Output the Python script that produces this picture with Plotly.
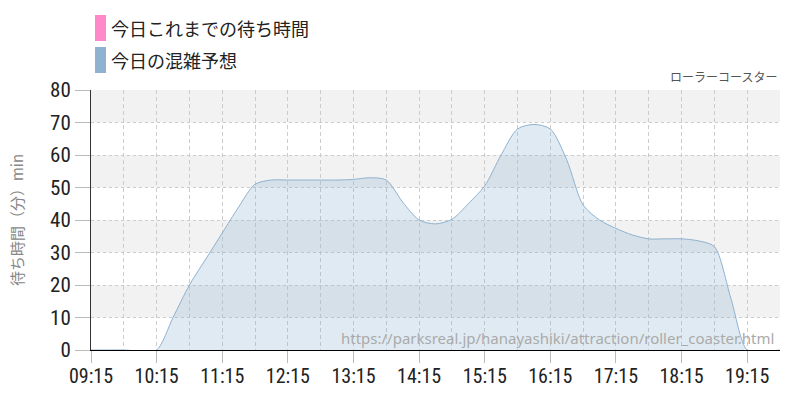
import plotly.graph_objects as go
from datetime import datetime

# ---- data ----
times = ["09:15", "09:30", "09:45", "10:00", "10:15", "10:30", "10:45", "11:00", "11:15",
         "11:30", "11:45", "12:00", "12:15", "12:30", "12:45", "13:00", "13:15", "13:30",
         "13:45", "14:00", "14:15", "14:30", "14:45", "15:00", "15:15", "15:30", "15:45",
         "16:00", "16:15", "16:30", "16:45", "17:00", "17:15", "17:30", "17:45", "18:00",
         "18:15", "18:30", "18:45", "19:00", "19:15", "19:30", "19:45"]
forecast = [0, 0, 0, -0.3, 0, 10, 20, 28, 36,
            44, 51, 52.3, 52.3, 52.3, 52.3, 52.3, 52.5, 53,
            52.3, 45.5, 40, 38.8, 40.2, 45, 50.5, 60, 68,
            69.4, 68, 58.5, 44.6, 40, 37.4, 35.4, 34.2, 34.2,
            34.2, 33.6, 31.8, 16, 0, -0.5, 0]
so_far_times = []
so_far = []
legend_names = ["今日これまでの待ち時間", "今日の混雑予想"]
legend_colors = ["#FF88C8", "#8FB2D0"]
title_text = "ローラーコースター"
y_title = "待ち時間（分）min"
watermark = "https://parksreal.jp/hanayashiki/attraction/roller_coaster.html"
y_ticks = [0, 10, 20, 30, 40, 50, 60, 70, 80]

day = "2024-01-01 "
def to_dt(t):
    return datetime.strptime(day + t, "%Y-%m-%d %H:%M")

x = [to_dt(t) for t in times]
x0 = to_dt("09:15")
x1 = to_dt("19:45")

num_font = "Roboto Condensed, Archivo Narrow, DejaVu Sans Condensed, sans-serif"
jp_font = "Noto Sans CJK JP, sans-serif"

L, R, T, B = 91, 20, 90, 50
PW, PH = 800 - L - R, 400 - T - B

def px_x(px):
    return (px - L) / PW

def px_y(py):
    return (400 - B - py) / PH

fig = go.Figure()
fig.add_trace(go.Scatter(
    x=[to_dt(t) for t in so_far_times], y=so_far, mode="lines",
    line=dict(color=legend_colors[0], width=1.5), name=legend_names[0], showlegend=False))
fig.add_trace(go.Scatter(
    x=x, y=forecast, mode="lines", fill="tozeroy",
    line=dict(color="#8FB2D0", width=1, shape="spline", smoothing=0.8),
    fillcolor="rgba(143,178,208,0.28)", name=legend_names[1], showlegend=False))

shapes = []
for i in range(0, len(y_ticks) - 1):
    lo, hi = y_ticks[i], y_ticks[i + 1]
    if i % 2 == 1:
        shapes.append(dict(type="rect", xref="paper", yref="y", x0=0, x1=1, y0=lo, y1=hi,
                           fillcolor="#F2F2F2", line=dict(width=0), layer="below"))
for i, c in enumerate(legend_colors):
    top = 15 + i * 32
    shapes.append(dict(type="rect", xref="paper", yref="paper",
                       x0=px_x(95), x1=px_x(106), y0=px_y(top + 26), y1=px_y(top),
                       fillcolor=c, line=dict(width=0)))

annotations = []
for i, n in enumerate(legend_names):
    cy = 28 + i * 32
    annotations.append(dict(text=n, xref="paper", yref="paper", x=px_x(109), y=px_y(cy),
                            xanchor="left", yanchor="middle", showarrow=False,
                            font=dict(family=jp_font, size=18, color="#222")))
annotations.append(dict(text=title_text, xref="paper", yref="paper", x=px_x(779), y=px_y(77),
                        xanchor="right", yanchor="middle", showarrow=False,
                        font=dict(family=jp_font, size=12, color="#555")))
annotations.append(dict(text=watermark, xref="paper", yref="paper", x=px_x(776), y=px_y(338),
                        xanchor="right", yanchor="middle", showarrow=False,
                        font=dict(family="Noto Sans, sans-serif", size=15, color="#AAAAAA")))

fig.update_layout(
    width=800, height=400,
    margin=dict(l=L, r=R, t=T, b=B),
    paper_bgcolor="white", plot_bgcolor="white",
    showlegend=False,
    shapes=shapes, annotations=annotations,
    xaxis=dict(
        type="date", range=[x0, x1], tick0=x0, dtick=3600000, tickformat="%H:%M",
        showgrid=True, gridcolor="#CCCCCC", griddash="4px,3px", gridwidth=1,
        minor=dict(dtick=1800000, tick0=x0, showgrid=True, gridcolor="#CCCCCC", griddash="4px,3px"),
        ticks="outside", ticklen=12, tickcolor="#BBBBBB", ticklabelstandoff=-4,
        showline=True, linecolor="#000000", linewidth=1,
        tickfont=dict(family=num_font, size=20, color="#222"),
        zeroline=False, fixedrange=True, automargin=False,
    ),
    yaxis=dict(
        range=[0, 80], tickvals=y_ticks, showgrid=True, gridcolor="#CCCCCC", griddash="dot",
        ticks="outside", ticklen=15, tickcolor="#BBBBBB",
        showline=True, linecolor="#333333", linewidth=1,
        tickfont=dict(family=num_font, size=21, color="#222"),
        title=dict(text=y_title, font=dict(family=jp_font, size=15, color="#888"), standoff=22),
        zeroline=False, automargin=False, fixedrange=True,
    ),
)

fig.write_html("out.html", config={"displayModeBar": False},
               post_script="document.body.style.margin='0';")
